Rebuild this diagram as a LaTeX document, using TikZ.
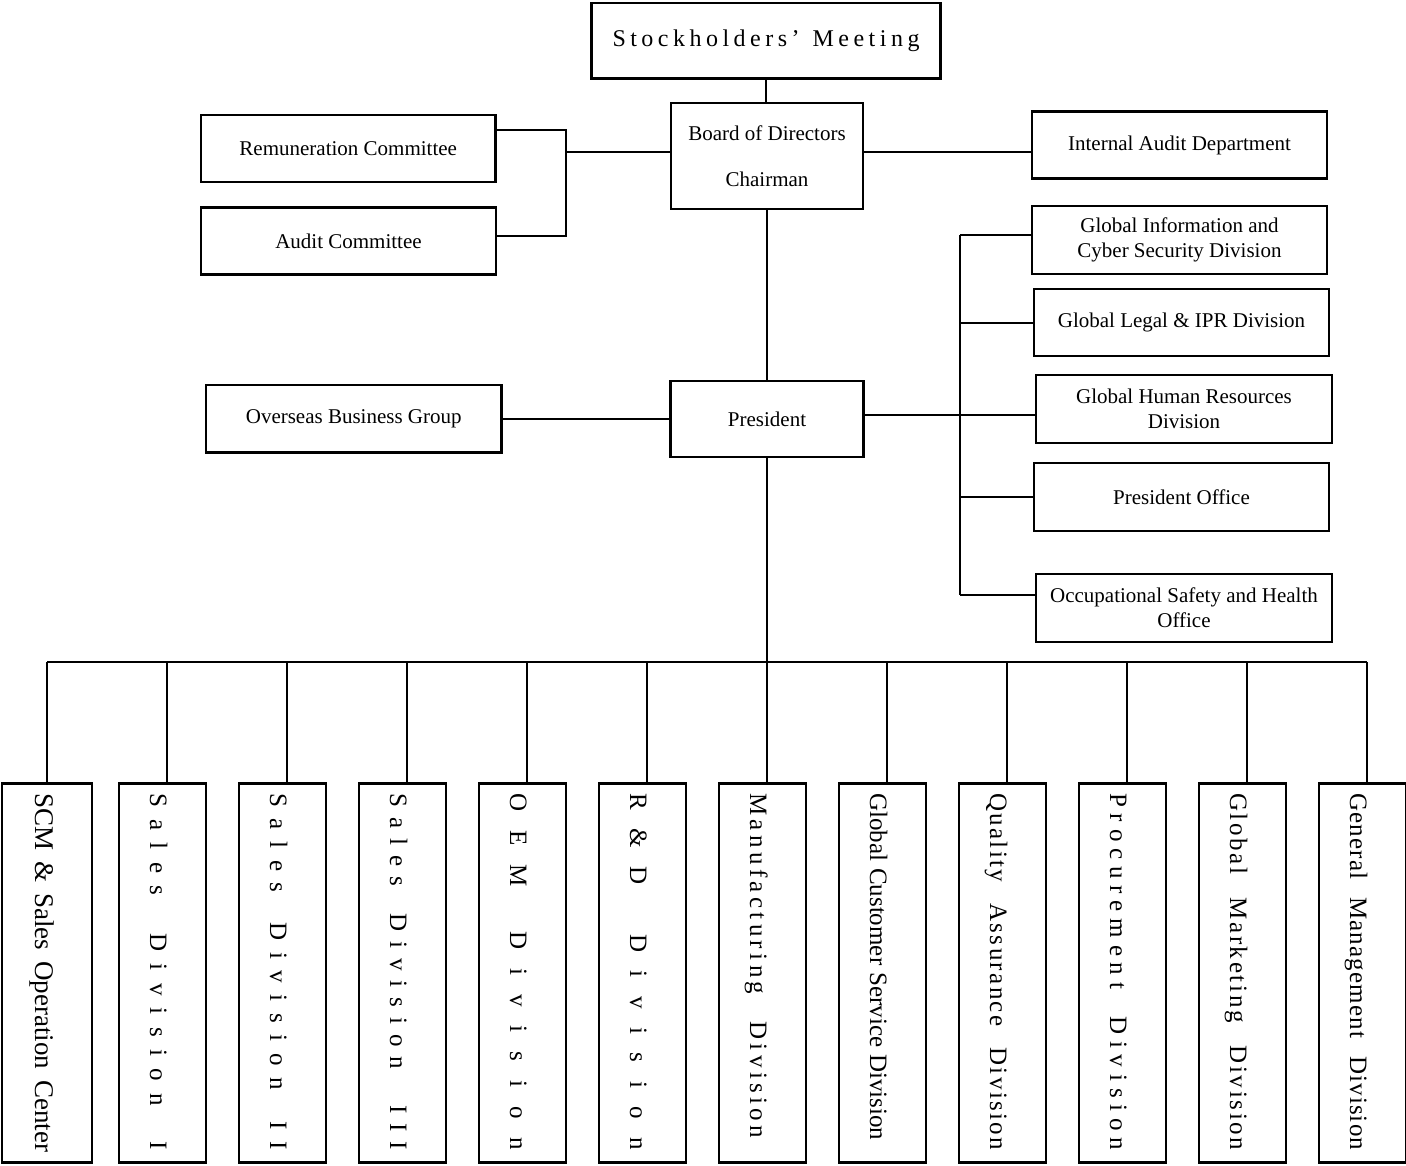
\documentclass[tikz,border=0pt]{standalone}
\usepackage{fontspec}
\setmainfont{Liberation Serif}
\usetikzlibrary{calc}

% letter-spacing helpers: \LS{word} puts stretchable glue between the letters,
% \WG{n} is a fixed word gap of n pt, \spreadbox{w}{...} sets the run to width w pt
\def\LSend{}
\def\LSgobble#1{}
\def\LS#1{\LSa#1\LSend}
\def\LSa#1#2{#1\ifx\LSend#2\expandafter\LSgobble\else\hfil\fi\LSa#2}
\newcommand\WG[1]{\hspace{#1pt}}
\newcommand\spreadbox[2]{\makebox[#1pt][s]{#2}}

\newcommand\hfont{\fontsize{21}{25}\selectfont}
\newcommand\vfont{\fontsize{25}{28}\selectfont}

\begin{document}
\begin{tikzpicture}[x=1pt,y=-1pt,
  box/.style={draw, line width=2.1pt, inner sep=0pt, align=center, font=\hfont},
  vbox/.style={draw, line width=2.1pt, inner sep=0pt, minimum width=87pt, minimum height=379pt},
  vlab/.style={rotate=-90, anchor=base west, inner sep=0pt, font=\vfont},
  wire/.style={line width=2.1pt}]

\fill[white] (0,0) rectangle (1406,1165);
\useasboundingbox (0,0) rectangle (1406,1165);

% top of the chart
\node[box, minimum width=349pt, minimum height=75.5pt] (sm) at (766,40.75)
  {\fontsize{24}{28}\selectfont\spreadbox{307}{\LS{Stockholders’}\WG{13}\LS{Meeting}}};
\node[box, minimum width=192.5pt, minimum height=106pt, font=\fontsize{21}{48}\selectfont] (board) at (767,156)
  {Board of Directors\\[-2pt]Chairman};
\node[box, minimum width=294.5pt, minimum height=67.5pt] (rem) at (348.25,148.5) {Remuneration Committee};
\node[box, minimum width=295pt, minimum height=67pt] (aud) at (348.5,241) {Audit Committee};
\node[box, minimum width=295pt, minimum height=67pt] (iad) at (1179.5,145) {Internal Audit Department};

% president level
\node[box, minimum width=193pt, minimum height=76pt] (pres) at (767,419) {President};
\node[box, minimum width=295.5pt, minimum height=67.5pt] (obg) at (353.75,418.75) {Overseas Business Group};

% staff units on the right
\node[box, minimum width=295pt, minimum height=68pt] (gis) at (1179.5,240) {Global Information and\\Cyber Security Division};
\node[box, minimum width=295pt, minimum height=67pt] (gl) at (1181.5,322.5) {Global Legal \& IPR Division};
\node[box, minimum width=296pt, minimum height=68pt] (hr) at (1184,409) {Global Human Resources\\Division};
\node[box, minimum width=295pt, minimum height=68pt] (po) at (1181.5,497) {President Office};
\node[box, minimum width=296pt, minimum height=68pt] (osh) at (1184,608) {Occupational Safety and Health\\Office};

% connectors, upper part
\draw[wire] (sm.south) -- (sm.south |- board.north);
\coordinate (lj) at (566,152);
\draw[wire] ($(rem.north east)!0.237!(rem.south east)$) -| (lj) |- ($(aud.north east)!0.433!(aud.south east)$);
\draw[wire] (lj) -- (lj -| board.west);
\draw[wire] (board.east |- lj) -- (lj -| iad.west);
\draw[wire] (board.south) -- (pres.north);
\draw[wire] (obg.east) -- (obg.east -| pres.west);

\coordinate (r1) at (960,235);
\coordinate (r2) at (960,323);
\coordinate (r3) at (960,415);
\coordinate (r4) at (960,497);
\coordinate (r5) at (960,595);
\draw[wire] (r1) -- (r5);
\draw[wire] (r1) -- (r1 -| gis.west);
\draw[wire] (r2) -- (r2 -| gl.west);
\draw[wire] (pres.east |- r3) -- (r3 -| hr.west);
\draw[wire] (r4) -- (r4 -| po.west);
\draw[wire] (r5) -- (r5 -| osh.west);

% divisions
\node[vbox, minimum width=90pt] (b1) at (47,973) {};
\foreach \i in {2,...,12} {
  \node[vbox] (b\i) at ({162.5+120*(\i-2)},973) {};
}
\coordinate (d1) at (47,662);
\foreach \i in {2,...,12} {
  \coordinate (d\i) at ({167+120*(\i-2)},662);
}
\draw[wire] (pres.south) -- (pres.south |- d1);
\draw[wire] (d1) -- (d12);
\foreach \i in {1,...,12} {
  \draw[wire] (d\i) -- (d\i |- b\i.north);
}

\node[vlab] (t1) at (35,793) {\fontsize{27}{30}\selectfont\spreadbox{359}{SCM \& Sales Operation Center}};
\node[vlab] (t2) at (150,793) {\spreadbox{357}{\LS{Sales}\WG{38}\LS{Division}\WG{36}\LS{I}}};
\node[vlab] (t3) at (270,793) {\spreadbox{357}{\LS{Sales}\WG{30}\LS{Division}\WG{32}\LS{II}}};
\node[vlab] (t4) at (390,793) {\spreadbox{357}{\LS{Sales}\WG{27}\LS{Division}\WG{36}\LS{III}}};
\node[vlab] (t5) at (510,793) {\spreadbox{357}{\LS{OEM}\WG{45}\LS{Division}}};
\node[vlab] (t6) at (630,793) {\spreadbox{357}{\LS{R\&D}\WG{50}\LS{Division}}};
\node[vlab] (t7) at (750,793) {\spreadbox{345}{\LS{Manufacturing}\WG{27}\LS{Division}}};
\node[vlab] (t8) at (870,793) {\spreadbox{347}{Global Customer Service Division}};
\node[vlab] (t9) at (990,793) {\spreadbox{357}{\LS{Quality}\WG{21}\LS{Assurance}\WG{21}\LS{Division}}};
\node[vlab] (t10) at (1110,793) {\spreadbox{357}{\LS{Procurement}\WG{27}\LS{Division}}};
\node[vlab] (t11) at (1230,793) {\spreadbox{357}{\LS{Global}\WG{23}\LS{Marketing}\WG{23}\LS{Division}}};
\node[vlab] (t12) at (1350,793) {\spreadbox{357}{\LS{General}\WG{18}\LS{Management}\WG{18}\LS{Division}}};

\end{tikzpicture}
\end{document}
